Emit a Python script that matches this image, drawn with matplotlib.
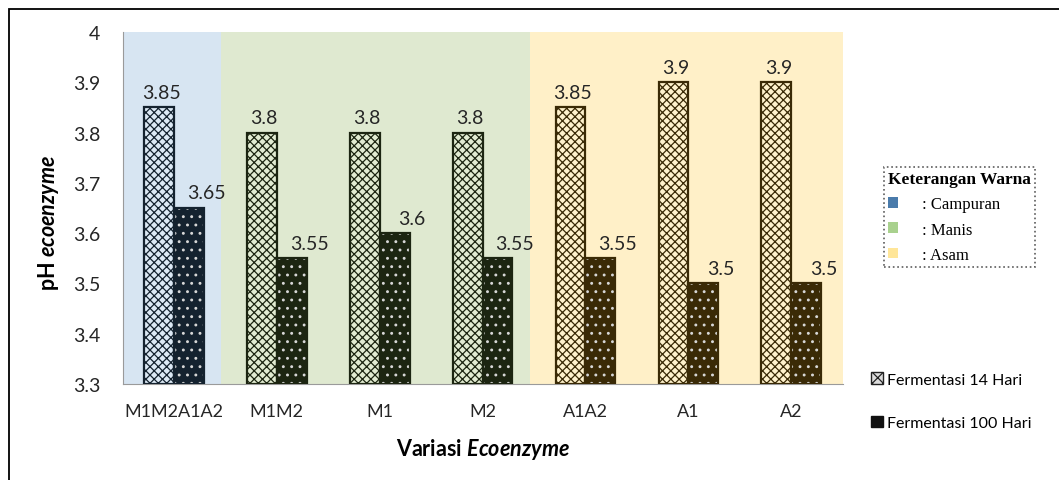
import matplotlib
matplotlib.use("Agg")
import matplotlib.pyplot as plt
from matplotlib.patches import Patch, Rectangle
import numpy as np

plt.rcParams['font.family'] = ['Lato', 'DejaVu Sans']
plt.rcParams['mathtext.fontset'] = 'custom'
plt.rcParams['mathtext.rm'] = 'Lato:bold'
plt.rcParams['mathtext.bfit'] = 'Lato:italic:bold'
plt.rcParams['hatch.linewidth'] = 0.9

# data
categories = ['M1M2A1A2', 'M1M2', 'M1', 'M2', 'A1A2', 'A1', 'A2']
day14 = [3.85, 3.8, 3.8, 3.8, 3.85, 3.9, 3.9]
day100 = [3.65, 3.55, 3.6, 3.55, 3.55, 3.5, 3.5]
group_of = [0, 1, 1, 1, 2, 2, 2]  # 0 campuran, 1 manis, 2 asam
group_names = [': Campuran', ': Manis', ': Asam']
series_names = ['Fermentasi 14 Hari', 'Fermentasi 100 Hari']

# colours per group
bg_col = ['#d7e5f2', '#dfe9d0', '#fff0c8']
face14 = ['#dce9f5', '#e2ecd2', '#fff2cc']
dark = ['#14222f', '#1c2511', '#3a2a06']
key_col = ['#4a7bab', '#a9d18e', '#ffe699']
bg_span = [(-0.5, 0.46), (0.46, 3.46), (3.46, 6.5)]

fig = plt.figure(figsize=(10.59, 4.81), dpi=100)
ax = fig.add_axes([0.1157, 0.1996, 0.680, 0.7318])

for g, (a, b) in enumerate(bg_span):
    ax.axvspan(a, b, color=bg_col[g], zorder=0, lw=0)

x = np.arange(len(categories))
w = 0.29
for i in x:
    g = group_of[i]
    ax.bar(i - w / 2, day14[i] - 3.3, w, bottom=3.3, facecolor=face14[g],
           edgecolor=dark[g], hatch='xxxx', linewidth=0, zorder=2)
    ax.bar(i - w / 2, day14[i] - 3.3, w, bottom=3.3, fill=False,
           edgecolor=dark[g], linewidth=1.6, zorder=3)
    ax.bar(i + w / 2, day100[i] - 3.3, w, bottom=3.3, facecolor=dark[g],
           edgecolor='#d8d8d8', hatch='..', linewidth=0, zorder=2)
    ax.bar(i + w / 2, day100[i] - 3.3, w, bottom=3.3, fill=False,
           edgecolor=dark[g], linewidth=1.6, zorder=3)
    ax.text(i - w / 2 + 0.02, day14[i] + 0.013, f'{day14[i]:g}', ha='center',
            va='bottom', fontsize=14, color='#262626', zorder=4)
    ax.text(i + w / 2 + 0.17, day100[i] + 0.013, f'{day100[i]:g}', ha='center',
            va='bottom', fontsize=14, color='#262626', zorder=4)

ax.set_xlim(-0.5, 6.5)
ax.set_ylim(3.3, 4.0)
yt = np.round(np.arange(3.3, 4.01, 0.1), 1)
ax.set_yticks(yt)
ax.set_yticklabels([f'{v:g}' for v in yt])
ax.set_xticks(x)
ax.set_xticklabels(categories)
ax.tick_params(axis='y', length=0, pad=16, labelsize=14, labelcolor='#262626')
ax.tick_params(axis='x', length=0, pad=14, labelsize=13, labelcolor='#262626')
for s in ['top', 'right']:
    ax.spines[s].set_visible(False)
ax.spines['left'].set_color('#9a9a9a')
ax.spines['bottom'].set_color('#9a9a9a')
ax.set_xlabel(r'Variasi $\mathbfit{Ecoenzyme}$', fontsize=15.5, fontweight='bold', labelpad=12)
ax.set_ylabel(r'pH $\mathbfit{ecoenzyme}$', fontsize=15.5, fontweight='bold')
ax.yaxis.set_label_coords(-0.086, 0.46)

# colour key
key_handles = [Patch(facecolor=c, edgecolor='none') for c in key_col]
leg1 = fig.legend(key_handles, group_names, loc='upper left',
                  bbox_to_anchor=(884 / 1059, 1 - 168 / 481),
                  title='Keterangan Warna', frameon=True, fancybox=False,
                  prop={'family': 'Liberation Serif', 'size': 12},
                  title_fontproperties={'family': 'Liberation Serif', 'size': 12.5, 'weight': 'bold'},
                  handlelength=0.6, handleheight=0.6, handletextpad=1.4,
                  labelspacing=0.55, borderpad=0.25, borderaxespad=0)
leg1.get_frame().set_linestyle(':')
leg1.get_frame().set_edgecolor('#333333')
leg1.get_frame().set_linewidth(1.2)
leg1._legend_box.align = 'left'

# series key
h14 = Patch(facecolor='#dddddd', edgecolor='#222222', hatch='xxx', linewidth=1)
h100 = Patch(facecolor='#111111', edgecolor='#111111', linewidth=1)
leg2 = fig.legend([h14, h100], series_names, loc='upper left',
                  bbox_to_anchor=(865 / 1059, 1 - 367 / 481), frameon=False,
                  fontsize=11.5, handlelength=0.7, handleheight=0.7,
                  handletextpad=0.25, labelspacing=1.85, borderaxespad=0)

# outer frame
fig.add_artist(Rectangle((9 / 1059, -0.2), 1.2, 1.2 - 10 / 481, transform=fig.transFigure,
                         fill=False, edgecolor='black', linewidth=1.3, clip_on=False))

fig.savefig('out.png', dpi=100)
